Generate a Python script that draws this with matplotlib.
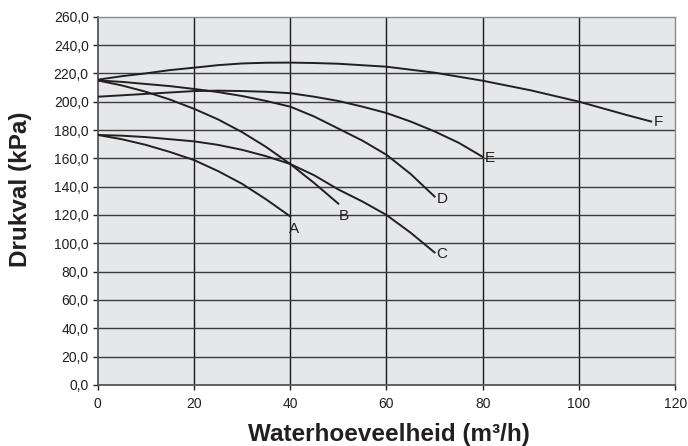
import matplotlib
matplotlib.use('Agg')
import matplotlib.pyplot as plt

# pump curves: flow (m3/h) vs pressure drop (kPa)
labels = ['A', 'B', 'C', 'D', 'E', 'F']

a_x = [0, 5, 10, 15, 20, 25, 30, 35, 40]
a_y = [176.5, 173.5, 169.5, 164.5, 158.8, 151, 142, 131, 119]

b_x = [0, 5, 10, 15, 20, 25, 30, 35, 40, 45, 50]
b_y = [215, 211.5, 207, 201.5, 195, 187.5, 178.5, 168, 156, 142.5, 128]

c_x = [0, 5, 10, 15, 20, 25, 30, 35, 40, 45, 50, 55, 60, 65, 70]
c_y = [176.5, 176, 175, 173.5, 172, 169.5, 166, 161.5, 156, 148, 138, 129.5, 120, 107.5, 93.5]

d_x = [0, 5, 10, 15, 20, 25, 30, 35, 40, 45, 50, 55, 60, 65, 70]
d_y = [215, 214, 212.5, 211, 209, 206.8, 204, 200.5, 196.5, 189.5, 181, 172.5, 162.5, 149, 133]

e_x = [0, 5, 10, 15, 20, 25, 30, 35, 40, 45, 50, 55, 60, 65, 70, 75, 80]
e_y = [203.5, 204.5, 205.5, 206.5, 207.5, 207.8, 207.5, 207, 206, 203.5, 200.5, 196.5, 192, 186, 179, 171, 161]

f_x = [0, 5, 10, 15, 20, 25, 30, 35, 40, 45, 50, 60, 70, 80, 90, 100, 110, 115]
f_y = [215.5, 218, 220, 222.3, 224, 225.8, 227, 227.5, 227.6, 227.3, 226.8, 224.7, 220.5, 214.8, 208, 200, 190.5, 186]

x_ticks = [0, 20, 40, 60, 80, 100, 120]
y_ticks = [0, 20, 40, 60, 80, 100, 120, 140, 160, 180, 200, 220, 240, 260]
y_ticklabels = ['0,0', '20,0', '40,0', '60,0', '80,0', '100,0', '120,0', '140,0',
                '160,0', '180,0', '200,0', '220,0', '240,0', '260,0']

plt.rcParams['font.family'] = ['Liberation Sans', 'DejaVu Sans']

fig = plt.figure(figsize=(6.88, 4.46), dpi=100)
ax = fig.add_axes([0.142, 0.137, 0.8395, 0.8255])
ax.set_facecolor('#e6e7e8')

ax.set_xlim(0, 120)
ax.set_ylim(0, 260)
ax.set_xticks(x_ticks)
ax.set_yticks(y_ticks)
ax.set_yticklabels(y_ticklabels)
ax.tick_params(labelsize=10, colors='#231f20', length=3.5, width=1, pad=3)
ax.tick_params(axis='x', pad=5)

# grid: black verticals, dark grey horizontals
for xv in x_ticks[1:-1]:
    ax.axvline(xv, color='#1a1a1a', lw=1.0, zorder=1)
for yv in y_ticks[1:-1]:
    ax.axhline(yv, color='#3c3c3c', lw=1.0, zorder=1)

for s in ['left', 'bottom']:
    ax.spines[s].set_color('#555555')
    ax.spines[s].set_linewidth(1.3)
for s in ['top', 'right']:
    ax.spines[s].set_color('#8a8a8a')
    ax.spines[s].set_linewidth(1.0)

series = [(a_x, a_y), (b_x, b_y), (c_x, c_y), (d_x, d_y), (e_x, e_y), (f_x, f_y)]
# label offsets in points from the curve end
offsets = [(-1, -9), (0, -9), (1.5, -1), (1.5, -2), (1.5, -1), (1.5, 0)]
for lab, (xs, ys), off in zip(labels, series, offsets):
    ax.plot(xs, ys, color='#231f20', lw=1.4, zorder=3)
    ax.annotate(lab, (xs[-1], ys[-1]), xytext=off, textcoords='offset points',
                fontsize=11, color='#231f20', va='center', ha='left', zorder=4)

fig.text(0.565, 0.026, 'Waterhoeveelheid (m\u00b3/h)', ha='center', va='center',
         fontsize=17.5, fontweight='bold', color='#231f20')
fig.text(0.030, 0.576, 'Drukval (kPa)', ha='center', va='center', rotation=90,
         fontsize=17.5, fontweight='bold', color='#231f20')

plt.savefig('out.png', dpi=100)
